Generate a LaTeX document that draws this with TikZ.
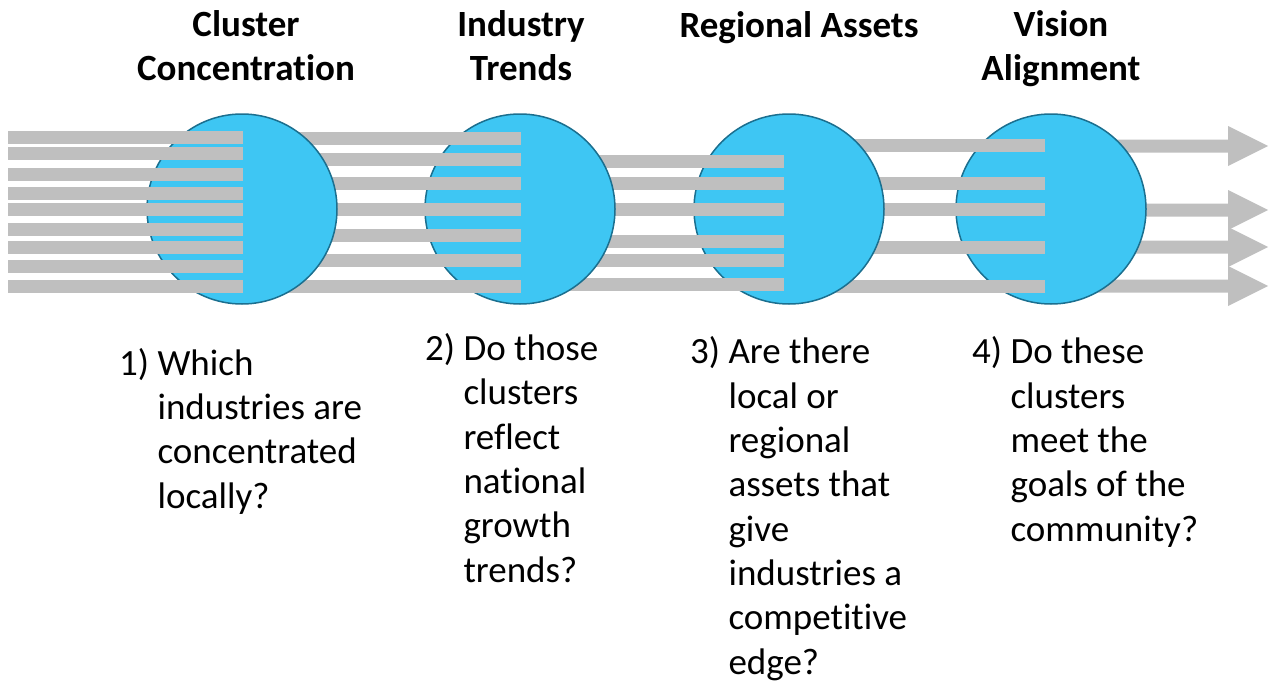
\documentclass[tikz,border=0pt]{standalone}
\usepackage{fontspec}
\setmainfont{Carlito}[Ligatures=NoCommon]
\definecolor{barg}{HTML}{BFBFBF}
\definecolor{discb}{HTML}{3EC6F3}
\definecolor{discline}{HTML}{1B6F8F}
\begin{document}
\begin{tikzpicture}[x=1pt,y=-1pt,
  bar/.style={fill=barg},
  disc/.style={circle, fill=discb, draw=discline, line width=1.5pt, minimum size=190pt, inner sep=0pt},
  title/.style={font=\bfseries\fontsize{37}{44}\selectfont, align=center, anchor=base, inner sep=0pt},
  qtext/.style={font=\fontsize{37}{44.3}\selectfont, align=left, anchor=base west, inner sep=0pt}]
\useasboundingbox (0,0) rectangle (1272,683);
% segment 5 arrows (under disc 4)
\foreach \y in {146,210,247,286}{
  \fill[bar] (1051,\y-6.5) -- (1228,\y-6.5) -- (1228,\y-20) -- (1268,\y) -- (1228,\y+20) -- (1228,\y+6.5) -- (1051,\y+6.5) -- cycle;
}
\node[disc] (c4) at (1051,209) {};
\foreach \y in {145,183,209,247,286}{ \fill[bar] (789,\y-6.5) rectangle (1045,\y+6.5); }
\node[disc] (c3) at (789,209) {};
\foreach \y in {161,183,209,241,260,284}{ \fill[bar] (520,\y-6.5) rectangle (784,\y+6.5); }
\node[disc] (c2) at (520,209) {};
\foreach \y in {138,159,183,209,235,260,286}{ \fill[bar] (242,\y-6.5) rectangle (521,\y+6.5); }
\node[disc] (c1) at (242,209) {};
\foreach \y in {137,153,174,193,209,229,247,266,286}{ \fill[bar] (8,\y-6.5) rectangle (243,\y+6.5); }
% titles (anchor = baseline of last line)
\node[title] (t1) at (246,80) {Cluster\\Concentration};
\node[title] (t2) at (521,80) {Industry\\Trends};
\node[title] (t3) at (799,37) {Regional Assets};
\node[title] (t4) at (1061,80) {Vision\\Alignment};
% questions (anchor = baseline of last line)
\node[qtext] (q1) at (119,508) {1) Which\\\phantom{1) }industries are\\\phantom{1) }concentrated\\\phantom{1) }locally?};
\node[qtext] (q2) at (425,582) {2) Do those\\\phantom{2) }clusters\\\phantom{2) }reflect\\\phantom{2) }national\\\phantom{2) }growth\\\phantom{2) }trends?};
\node[qtext] (q3) at (690,674) {3) Are there\\\phantom{3) }local or\\\phantom{3) }regional\\\phantom{3) }assets that\\\phantom{3) }give\\\phantom{3) }industries a\\\phantom{3) }competitive\\\phantom{3) }edge?};
\node[qtext] (q4) at (972,541) {4) Do these\\\phantom{4) }clusters\\\phantom{4) }meet the\\\phantom{4) }goals of the\\\phantom{4) }community?};
\end{tikzpicture}
\end{document}
